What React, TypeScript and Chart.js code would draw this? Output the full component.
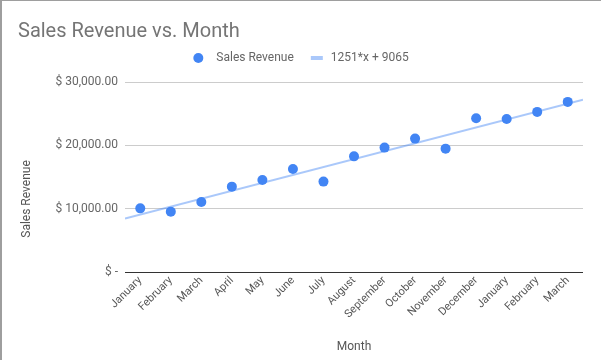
import { useEffect, useRef } from 'react';
import { Chart, registerables } from 'chart.js';

Chart.register(...registerables);

const months = [
  'January', 'February', 'March', 'April', 'May', 'June', 'July', 'August',
  'September', 'October', 'November', 'December', 'January', 'February', 'March',
];
const salesRevenue = [
  10050, 9530, 11060, 13480, 14530, 16270, 14270, 18260,
  19640, 21060, 19480, 24270, 24170, 25280, 26860,
];
const trendSlope = 1251;
const trendIntercept = 9065;
const trendLabel = '1251*x + 9065';
const seriesLabel = 'Sales Revenue';
const yTickValues = [0, 10000, 20000, 30000];

const POINT_COLOR = '#4285F4';
const TREND_COLOR = 'rgba(66,133,244,0.45)';

const yTitlePlugin = {
  id: 'yTitlePlugin',
  afterDraw(chart: any) {
    const ctx = chart.ctx;
    ctx.save();
    ctx.translate(25, 198);
    ctx.rotate(-Math.PI / 2);
    ctx.textAlign = 'center';
    ctx.textBaseline = 'middle';
    ctx.font = '12px Roboto';
    ctx.fillStyle = '#555';
    ctx.fillText('Sales Revenue', 0, 0);
    ctx.restore();
  },
};

const legendPlugin = {
  id: 'legendPlugin',
  afterDraw(chart: any) {
    const ctx = chart.ctx;
    ctx.save();
    ctx.font = '12px Roboto';
    const w1 = ctx.measureText(seriesLabel).width;
    const w2 = ctx.measureText(trendLabel).width;
    const total = 23 + w1 + 17 + 12 + 8 + w2;
    const cy = 57;
    let x = 299 - total / 2;
    ctx.fillStyle = POINT_COLOR;
    ctx.beginPath();
    ctx.arc(x + 5, cy, 5, 0, Math.PI * 2);
    ctx.fill();
    ctx.fillStyle = '#666';
    ctx.textBaseline = 'middle';
    ctx.textAlign = 'left';
    ctx.fillText(seriesLabel, x + 23, cy);
    x += 23 + w1 + 17;
    ctx.strokeStyle = TREND_COLOR;
    ctx.lineWidth = 4;
    ctx.beginPath();
    ctx.moveTo(x, cy);
    ctx.lineTo(x + 12, cy);
    ctx.stroke();
    ctx.fillText(trendLabel, x + 20, cy);
    ctx.restore();
  },
};

function fmtMoney(v: number) {
  if (v === 0) return '$ -';
  return '$ ' + v.toLocaleString('en-US', { minimumFractionDigits: 2, maximumFractionDigits: 2 });
}

export default function App() {
  const ref = useRef<HTMLCanvasElement | null>(null);
  useEffect(() => {
    if (!ref.current) return;
    Chart.defaults.font.family = 'Roboto';
    const xMin = -0.5;
    const xMax = months.length - 0.5;
    const chart = new Chart(ref.current, {
      type: 'scatter',
      data: {
        datasets: [
          {
            label: seriesLabel,
            data: salesRevenue.map((v, i) => ({ x: i, y: v })),
            backgroundColor: POINT_COLOR,
            borderColor: POINT_COLOR,
            pointRadius: 5,
            pointHoverRadius: 5,
            borderWidth: 0,
          },
          {
            label: trendLabel,
            type: 'line',
            data: [
              { x: xMin, y: trendSlope * xMin + trendIntercept },
              { x: xMax, y: trendSlope * xMax + trendIntercept },
            ],
            showLine: true,
            borderColor: TREND_COLOR,
            backgroundColor: TREND_COLOR,
            borderWidth: 2,
            pointRadius: 0,
            fill: false,
          } as any,
        ],
      },
      options: {
        responsive: false,
        animation: false,
        layout: { padding: { left: 16, right: 18, top: 0, bottom: 2 } },
        plugins: {
          tooltip: { enabled: false },
          title: {
            display: true,
            text: 'Sales Revenue vs. Month',
            align: 'start',
            color: '#757575',
            font: { family: 'Roboto', size: 20, weight: 'normal' },
            padding: { top: 19, bottom: 38 },
          },
          legend: { display: false },
        },
        scales: {
          x: {
            type: 'linear',
            min: xMin,
            max: xMax,
            afterBuildTicks: (axis: any) => {
              axis.ticks = months.map((_, i) => ({ value: i }));
            },
            afterFit: (s: any) => {
              s.height = 86;
            },
            ticks: {
              autoSkip: false,
              maxRotation: 45,
              minRotation: 45,
              color: '#555',
              padding: 2,
              font: { family: 'Roboto', size: 11 },
              callback: (v: any) => months[v as number] ?? '',
            },
            grid: { display: false, drawTicks: false },
            border: { display: false },
            title: {
              display: true,
              text: 'Month',
              color: '#555',
              font: { family: 'Roboto', size: 12 },
              padding: { top: 4, bottom: 4 },
            },
          },
          y: {
            type: 'linear',
            min: 0,
            max: 30000,
            afterBuildTicks: (axis: any) => {
              axis.ticks = yTickValues.map((v) => ({ value: v }));
            },
            afterFit: (s: any) => {
              s.width = 107;
            },
            ticks: {
              color: '#666',
              padding: 7,
              font: { family: 'Roboto', size: 12 },
              callback: (v: any) => fmtMoney(Number(v)),
            },
            grid: {
              drawTicks: false,
              color: (c: any) => (c.tick && c.tick.value === 0 ? '#333' : '#ccc'),
              lineWidth: 1,
            },
            border: { display: false },
          },
        },
      },
      plugins: [yTitlePlugin, legendPlugin],
    });
    return () => chart.destroy();
  }, []);

  return (
    <div
      style={{
        position: 'absolute',
        left: 0,
        top: 0,
        width: 601,
        height: 360,
        boxSizing: 'border-box',
        borderTop: '1px solid #9e9e9e',
        borderLeft: '2px solid #9e9e9e',
        background: '#fff',
        overflow: 'hidden',
      }}
    >
      <canvas ref={ref} width={599} height={359} style={{ display: 'block' }} />
    </div>
  );
}
